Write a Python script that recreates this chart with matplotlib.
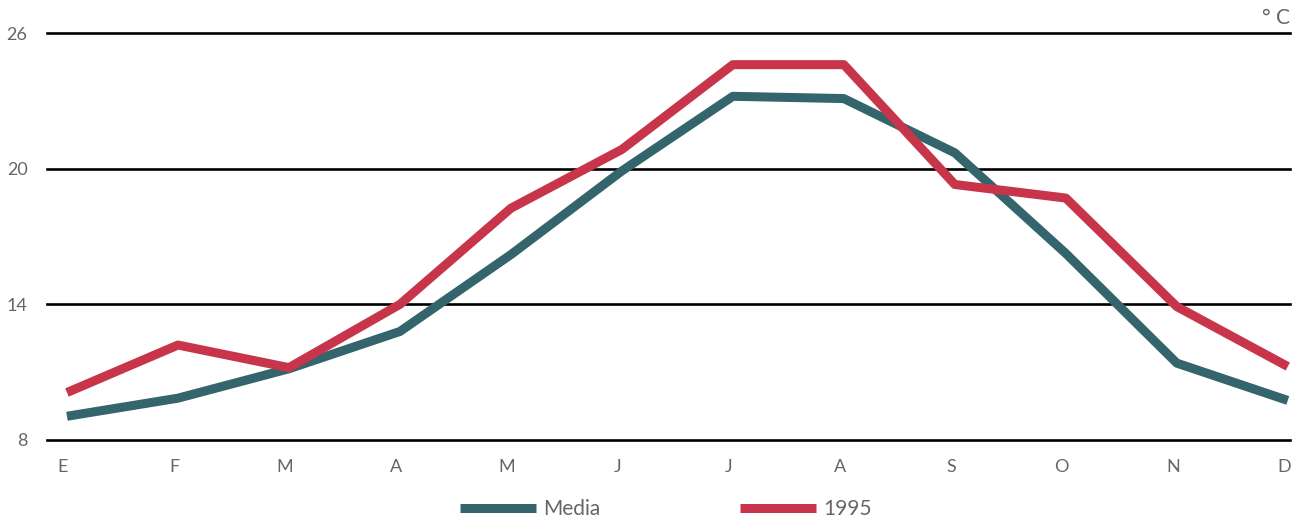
import numpy as np
import matplotlib.pyplot as plt
import matplotlib.transforms as mtransforms

months = ["E", "F", "M", "A", "M", "J", "J", "A", "S", "O", "N", "D"]
media = [9.05, 9.85, 11.15, 12.8, 16.2, 19.9, 23.2, 23.1, 20.7, 16.25, 11.4, 9.75]
y1995 = [10.1, 12.2, 11.2, 14.0, 18.25, 20.85, 24.6, 24.6, 19.3, 18.7, 13.9, 11.25]
yticks = [8, 14, 20, 26]

teal = "#34646c"
red = "#c8344a"
grey = "#666666"

plt.rcParams["font.family"] = ["Lato", "DejaVu Sans"]

fig = plt.figure(figsize=(13.11, 5.26), dpi=100)
ax = fig.add_axes([47 / 1311, 1 - 440 / 526, 1243 / 1311, 407 / 526])

x = np.arange(len(months))
for t in yticks:
    ax.axhline(t, color="black", lw=1.9, zorder=1, clip_on=False)
ax.plot(x, media, color=teal, lw=6.5, zorder=3, clip_on=False,
        solid_capstyle="butt", label="Media")
ax.plot(x, y1995, color=red, lw=6.5, zorder=3, clip_on=False,
        solid_capstyle="butt", label="1995")

ax.set_xlim(-0.18, 11.02)
ax.set_ylim(8, 26)
for s in ax.spines.values():
    s.set_visible(False)
ax.set_xticks(x)
ax.set_xticklabels(months)
ax.set_yticks(yticks)
ax.tick_params(length=0, labelsize=13, labelcolor=grey)
ax.tick_params(axis="x", pad=14)
ax.tick_params(axis="y", pad=14)

# month labels sit a little left of the data points
shift = mtransforms.ScaledTranslation(-4 / 100, 0, fig.dpi_scale_trans)
for lab in ax.get_xticklabels():
    lab.set_transform(lab.get_transform() + shift)

fig.text(1290 / 1311, 1 - 18 / 526, "° C", ha="right", va="center",
         fontsize=15, color=grey)

fig.legend(loc="center", bbox_to_anchor=(0.508, 1 - 509 / 526), ncol=2,
           frameon=False, handlelength=3.65, columnspacing=6.7,
           handletextpad=0.35, labelcolor=grey, prop={"size": 15})

fig.savefig("out.png", dpi=100)
